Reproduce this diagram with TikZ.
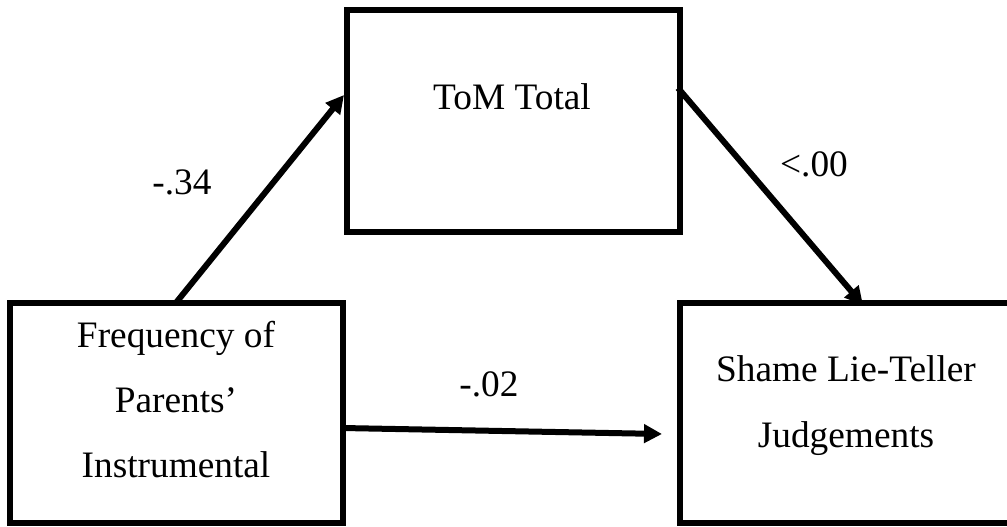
\documentclass[tikz,border=0pt]{standalone}
\usepackage{fontspec}
\setmainfont{Liberation Serif}
\usetikzlibrary{arrows.meta,calc}
\begin{document}
\begin{tikzpicture}[x=0.75pt,y=-0.75pt,
  box/.style={draw,line width=4.5pt,minimum width=249.75pt,inner sep=0pt},
  txt/.style={font=\fontsize{28}{34}\selectfont,anchor=base,inner sep=0pt},
  link/.style={line width=4.5pt,-{Triangle[length=13.5pt,width=13.5pt]}}]
\useasboundingbox (0,0) rectangle (1007,527);
\clip (0,0) rectangle (1007,527);
% variables
\node[box,minimum height=166.5pt] (tom) at (513.5,121) {};
\node[box,minimum height=165pt] (freq) at (176.5,413) {};
\node[box,minimum height=165pt] (shame) at (846.5,413) {};
% box texts
\node[txt] (tomtxt) at (512,110) {ToM Total};
\node[txt] (f1) at (176,348) {Frequency of};
\node[txt] (f2) at (176,412) {Parents’};
\node[txt] (f3) at (176,477) {Instrumental};
\node[txt] (s1) at (846,382) {Shame Lie-Teller};
\node[txt] (s2) at (846,447) {Judgements};
% paths
\draw[link] ($(freq.north)+(-1.5,4)$) -- ($(tom.west)+(0,-26)$);
\draw[link] ($(tom.east)+(-5,-33)$) -- ($(shame.north)+(16.5,5)$);
\draw[link] ($(freq.east)+(-4,15)$) -- ($(shame.west)+(-15,21)$);
% coefficients
\node[txt] (c1) at (182,195) {-.34};
\node[txt] (c2) at (814,177) {<.00};
\node[txt] (c3) at (489,397) {-.02};
\end{tikzpicture}
\end{document}
